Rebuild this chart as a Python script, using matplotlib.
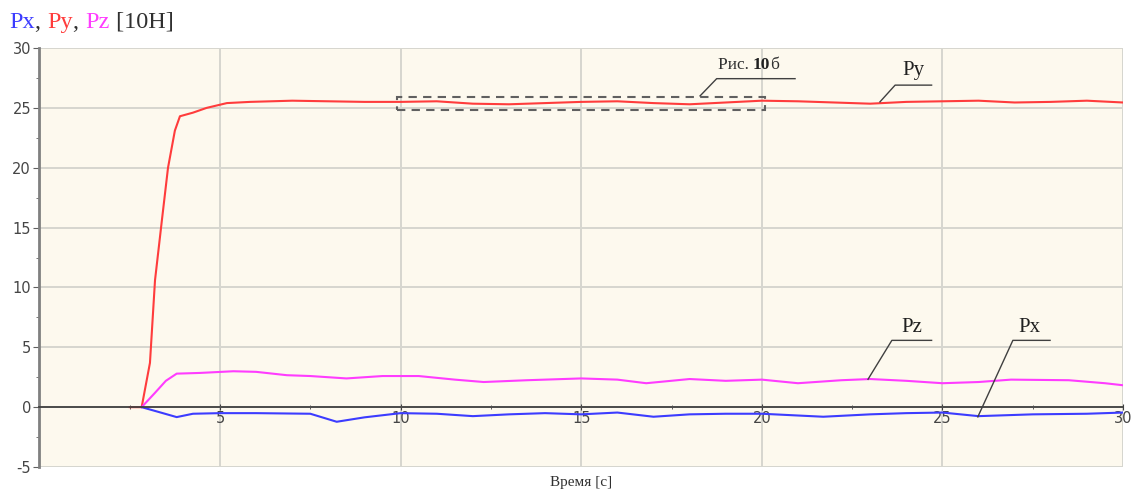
import numpy as np
import matplotlib
matplotlib.use('Agg')
import matplotlib.pyplot as plt
from matplotlib.patches import Rectangle

plt.rcParams['axes.unicode_minus'] = False

# Series (time in s, force in 10 N)
t_py = [2.5, 2.83, 3.06, 3.2, 3.39, 3.56, 3.75, 3.89, 4.25, 4.63, 5.19, 5.83, 7, 8, 9,
        10, 11, 12, 13, 14, 15, 16, 17, 18, 19, 20, 21, 22, 23, 24, 25, 26, 27, 28, 29, 30]
py = [0, 0, 3.7, 10.6, 15.6, 20.0, 23.1, 24.3, 24.6, 25.0, 25.4, 25.5, 25.6, 25.55, 25.5,
      25.5, 25.55, 25.35, 25.3, 25.4, 25.5, 25.55, 25.4, 25.3, 25.45, 25.6, 25.55, 25.45,
      25.35, 25.5, 25.55, 25.6, 25.45, 25.5, 25.6, 25.45]

t_pz = [2.83, 3.2, 3.5, 3.8, 4.45, 5.37, 6, 6.85, 7.5, 8.5, 9.5, 10.5, 11.5, 12.3, 13.5,
        15, 16, 16.8, 18, 19, 20, 21, 22.2, 23, 24, 25, 26, 26.9, 28.5, 29.5, 30]
pz = [0, 1.2, 2.2, 2.8, 2.86, 3.0, 2.95, 2.67, 2.6, 2.4, 2.6, 2.6, 2.3, 2.1, 2.25,
      2.4, 2.3, 2.0, 2.35, 2.2, 2.3, 2.0, 2.25, 2.35, 2.2, 2.0, 2.1, 2.3, 2.25, 2.0, 1.83]

t_px = [2.83, 3.3, 3.8, 4.25, 5, 6, 7.5, 8.23, 9, 10, 11, 12, 13, 14, 15, 16, 17, 18,
        19, 20, 21.7, 23, 24, 25, 26, 27.5, 29, 30]
px = [0, -0.4, -0.83, -0.55, -0.5, -0.5, -0.55, -1.22, -0.85, -0.5, -0.55, -0.75, -0.6,
      -0.5, -0.6, -0.45, -0.8, -0.6, -0.55, -0.55, -0.8, -0.6, -0.5, -0.45, -0.75, -0.6,
      -0.55, -0.45]

x_ticks = [5, 10, 15, 20, 25, 30]
y_ticks = [-5, 0, 5, 10, 15, 20, 25, 30]

c_px = '#3c3cff'
c_py = '#ff3c3c'
c_pz = '#ff3cff'
serif = 'Liberation Serif'

fig = plt.figure(figsize=(11.33, 4.93), dpi=100)
ax = fig.add_axes([0.0348, 0.0527, 0.9564, 0.8499])
ax.set_facecolor('#fdf9ee')

ax.plot(t_py, py, color=c_py, lw=1.5, zorder=3)
ax.plot(t_pz, pz, color=c_pz, lw=1.5, zorder=3)
ax.plot(t_px, px, color=c_px, lw=1.5, zorder=3)

ax.set_xlim(0, 30)
ax.set_ylim(-5, 30)
ax.set_xticks(x_ticks)
ax.set_yticks(y_ticks)
ax.set_xticks(np.arange(2.5, 30, 5), minor=True)
ax.set_yticks(np.arange(-2.5, 30, 5), minor=True)
ax.grid(True, which='major', color='#d6d6cf', lw=1.4, zorder=0)

for s in ['top', 'right']:
    ax.spines[s].set_visible(False)
ax.spines['bottom'].set_position(('data', 0))
ax.spines['bottom'].set_color('#404040')
ax.spines['bottom'].set_linewidth(1.3)
ax.spines['bottom'].set_zorder(4)
ax.spines['left'].set_color('#808080')
ax.spines['left'].set_linewidth(2)

ax.tick_params(axis='x', which='major', direction='inout', length=4, color='#404040',
               labelsize=10.5, labelcolor='#454545', pad=1)
ax.tick_params(axis='x', which='minor', direction='inout', length=3, color='#404040')
ax.tick_params(axis='y', which='major', direction='out', length=4, color='#606060',
               labelsize=10.5, labelcolor='#454545', pad=2)
ax.tick_params(axis='y', which='minor', direction='out', length=2, color='#606060')
for lbl in ax.get_xticklabels() + ax.get_yticklabels():
    lbl.set_family('DejaVu Sans')

# light frame along bottom and right
ax.axhline(-5, color='#d6d6cf', lw=2, zorder=0)
ax.axvline(30, color='#d6d6cf', lw=2, zorder=0)

fig.text(0.513, 0.022, 'Время [с]', family=serif, fontsize=11, color='#303030',
         ha='center', va='center')

# dashed box and leaders
ax.add_patch(Rectangle((9.9, 24.83), 10.2, 1.11, fill=False, ec='#606060', lw=1.5,
                       ls=(0, (4, 3)), zorder=5))
lead = dict(color='#404040', lw=1.0, zorder=5)
ax.plot([23.27, 23.69, 24.7], [25.5, 26.9, 26.9], **lead)
ax.plot([18.29, 18.75, 20.92], [26.0, 27.44, 27.44], **lead)
ax.plot([22.94, 23.6, 24.7], [2.33, 5.58, 5.58], **lead)
ax.plot([25.98, 26.95, 27.98], [-0.81, 5.58, 5.58], **lead)

ax.text(24.2, 28.1, 'Py', family=serif, fontsize=15, color='#202020', ha='center', va='center')
ax.text(24.15, 6.67, 'Pz', family=serif, fontsize=15, color='#202020', ha='center', va='center')
ax.text(27.4, 6.67, 'Px', family=serif, fontsize=15, color='#202020', ha='center', va='center')

fig.canvas.draw()
renderer = fig.canvas.get_renderer()


def text_row(x, y, parts, transform, size, **kw):
    # place text pieces one after another
    for s, col, wt in parts:
        t = fig.text(x, y, s, color=col, fontsize=size, family=serif, weight=wt,
                     va='center', ha='left', transform=transform, **kw)
        bb = t.get_window_extent(renderer)
        x = transform.inverted().transform((bb.x1, bb.y0))[0]


text_row(0.0085, 0.955, [('Px', c_px, 'normal'), (', ', '#303030', 'normal'),
                         ('Py', c_py, 'normal'), (', ', '#303030', 'normal'),
                         ('Pz', c_pz, 'normal'), (' [10H]', '#303030', 'normal')],
         fig.transFigure, 17.5)

# "Рис. 10б" label in data coordinates
p0 = ax.transData.transform((18.78, 28.6))
p0 = fig.transFigure.inverted().transform(p0)
text_row(p0[0], p0[1], [('Рис. ', '#303030', 'normal'), ('10', '#202020', 'bold'),
                        ('б', '#303030', 'normal')], fig.transFigure, 12.5)

fig.savefig('out.png', dpi=100)
